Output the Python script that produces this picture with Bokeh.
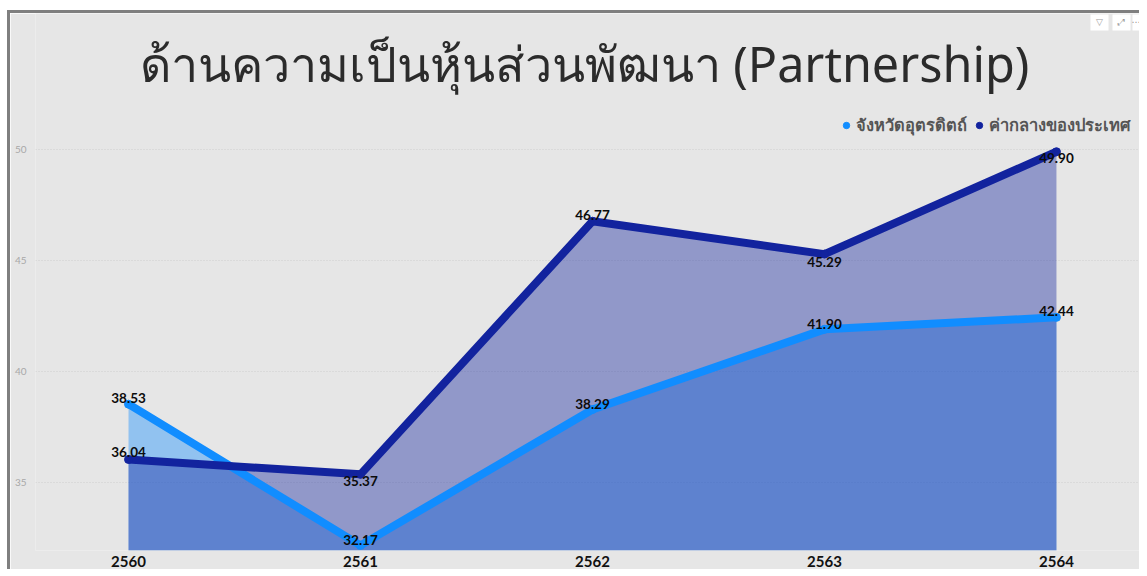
from bokeh.plotting import figure
from bokeh.embed import file_html
from bokeh.resources import INLINE
from bokeh.models import ColumnDataSource, Legend, LegendItem, FixedTicker, Range1d, BoxAnnotation, Label
from bokeh.core.properties import value

years = [2560, 2561, 2562, 2563, 2564]
province = [38.53, 32.17, 38.29, 41.90, 42.44]
national = [36.04, 35.37, 46.77, 45.29, 49.90]
province_name = "จังหวัดอุตรดิตถ์"
national_name = "ค่ากลางของประเทศ"
title_text = "ด้านความเป็นหุ้นส่วนพัฒนา (Partnership)"
y_ticks = [35, 40, 45, 50]

BLUE = "#118DFF"
NAVY = "#12239E"
BG = "#E6E6E6"
THAI = "Noto Sans"
W, H = 1129, 555

Y_BASE = 31.94
p = figure(width=W, height=H, output_backend="svg", toolbar_location=None,
           x_range=Range1d(2559.599, 2564.358), y_range=Range1d(Y_BASE, 56.126),
           background_fill_color=BG, border_fill_color=BG, outline_line_color=None,
           min_border_left=25, min_border_right=0, min_border_top=0, min_border_bottom=18,
           frame_width=1104, frame_height=537, margin=(10, 0, 0, 7),
           styles={"border-top": "3px solid #7f7f7f", "border-left": "3px solid #7f7f7f"})

p.add_layout(Label(x=549, y=488, x_units="screen", y_units="screen", text=title_text,
                   text_font=THAI, text_font_size="48.5px", text_color="#2b2b2b",
                   text_align="center", text_baseline="middle"))

p.varea(years, [Y_BASE] * 5, province, fill_color=BLUE, fill_alpha=0.4)
p.varea(years, [Y_BASE] * 5, national, fill_color=NAVY, fill_alpha=0.4)
l1 = p.line(years, province, line_color=BLUE, line_width=8)
l2 = p.line(years, national, line_color=NAVY, line_width=8)
m1 = p.scatter(years, province, size=8, color=BLUE)
m2 = p.scatter(years, national, size=8, color=NAVY)

# vertical placement of each value label, px above (+) or below (-) the point
prov_off = [6, 5, 6, 5, 6]
nat_off = [7, -7, 6, -8, -6]
for ys, off in ((province, prov_off), (national, nat_off)):
    src = ColumnDataSource(dict(x=years, y=ys, t=["%.2f" % v for v in ys],
                                off=[-o for o in off]))
    p.text("x", "y", text="t", source=src, y_offset="off", text_align="center",
           text_baseline="middle", text_font=value("Lato"), text_font_style="bold",
           text_font_size="13.5px", text_color="#0c0c0c")

p.xgrid.visible = False
p.ygrid.grid_line_color = "#cfcfcf"
p.ygrid.grid_line_dash = "1 2"
p.ygrid.grid_line_width = 1
p.yaxis.ticker = FixedTicker(ticks=y_ticks)
p.yaxis.axis_line_color = None
p.yaxis.major_tick_line_color = None
p.yaxis.minor_tick_line_color = None
p.yaxis.major_tick_out = 0
p.yaxis.major_tick_in = 0
p.yaxis.minor_tick_out = 0
p.yaxis.minor_tick_in = 0
p.yaxis.major_label_text_color = "#a8a8a8"
p.yaxis.major_label_text_font = "Lato"
p.yaxis.major_label_text_font_size = "10px"
p.yaxis.major_label_standoff = 9
p.xaxis.ticker = FixedTicker(ticks=years)
p.xaxis.axis_line_color = None
p.xaxis.major_tick_line_color = None
p.xaxis.minor_tick_line_color = None
p.xaxis.major_tick_out = 0
p.xaxis.major_tick_in = 0
p.xaxis.minor_tick_out = 0
p.xaxis.minor_tick_in = 0
p.xaxis.major_label_text_color = "#111111"
p.xaxis.major_label_text_font = "Lato"
p.xaxis.major_label_text_font_style = "bold"
p.xaxis.major_label_text_font_size = "15px"
p.xaxis.major_label_standoff = 5

legend = Legend(items=[LegendItem(label=province_name, renderers=[m1]),
                       LegendItem(label=national_name, renderers=[m2])],
                orientation="horizontal", location=(803, 412), background_fill_alpha=0,
                border_line_color=None, padding=0, margin=0, spacing=4,
                glyph_width=16, glyph_height=20, label_height=20, label_standoff=2,
                label_text_font=THAI, label_text_font_style="bold",
                label_text_font_size="16.5px", label_text_color="#555555")
p.add_layout(legend, "center")

# small white header icons of the dashboard
for left, right, glyph in ((1055, 1073, "\u25BD"), (1077, 1095, "\u2922"), (1097, 1104, "\u22EF")):
    p.add_layout(BoxAnnotation(left=left, right=right, top=536, bottom=520,
                               left_units="screen", right_units="screen",
                               top_units="screen", bottom_units="screen",
                               fill_color="white", fill_alpha=1, line_color=None,
                               level="underlay"))
    p.add_layout(Label(x=(left + right) / 2, y=529, x_units="screen", y_units="screen",
                       text=glyph, text_font="DejaVu Sans", text_font_size="9px",
                       text_color="#9a9a9a", text_align="center", text_baseline="middle"))

open("out.html", "w").write(file_html(p, INLINE))
